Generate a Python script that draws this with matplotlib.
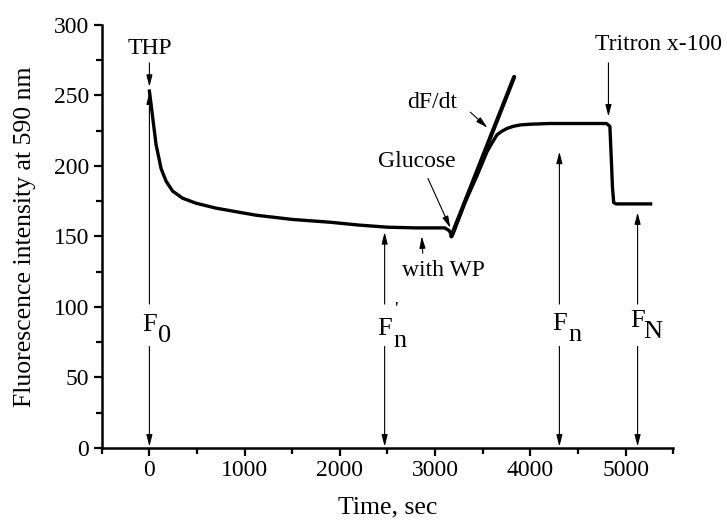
import numpy as np
import matplotlib
matplotlib.use("Agg")
import matplotlib.pyplot as plt

plt.rcParams['font.family'] = ['Liberation Serif', 'DejaVu Serif']

# fluorescence trace
time_s = [0, 35, 70, 123, 176, 245, 350, 490, 700, 950, 1120, 1500, 1900,
          2200, 2500, 2800, 3000, 3100, 3150, 3175, 3195, 3300, 3440, 3545,
          3600, 3650, 3700, 3755, 3820, 3895, 4000, 4200, 4500, 4800, 4835,
          4850, 4862, 4875, 4900, 5000, 5100, 5263]
fluor = [253, 234, 215, 198, 189, 182, 177, 173.5, 170, 167, 165, 162, 160,
         158, 156.5, 156, 156, 156, 154, 150, 153, 172, 193, 210,
         216.5, 222, 224.5, 226.5, 228, 229, 229.5, 230, 230, 230, 228,
         205, 185, 174, 173, 173, 173, 173]

# tangent line (dF/dt)
tangent_t = [3170, 3830]
tangent_f = [150, 263]

fig = plt.figure(figsize=(7.27, 5.27), dpi=100)
ax = fig.add_axes([0.140, 0.150, 0.786, 0.803])

ax.plot(time_s, fluor, color='black', lw=2.4, solid_joinstyle='round')
ax.plot(tangent_t, tangent_f, color='black', lw=3.0, solid_capstyle='round')

ax.set_xlim(-500, 5500)
ax.set_ylim(0, 300)
ax.set_xticks([0, 1000, 2000, 3000, 4000, 5000])
ax.set_xticks(np.arange(-500, 5501, 1000), minor=True)
ax.set_yticks(np.arange(0, 301, 50))
ax.set_yticks(np.arange(25, 300, 50), minor=True)
for s in ['top', 'right']:
    ax.spines[s].set_visible(False)
for s in ['left', 'bottom']:
    ax.spines[s].set_linewidth(1.8)
ax.tick_params(which='major', direction='out', length=6, width=1.6, labelsize=17, pad=3)
ax.tick_params(which='minor', direction='out', length=4, width=1.6)
ax.set_xlabel('Time, sec', fontsize=18.5, labelpad=11)
ax.set_ylabel('Fluorescence intensity at 590 nm', fontsize=18.5, labelpad=13)

arrow = dict(arrowstyle='-|>,head_length=0.7,head_width=0.18', color='black',
             lw=0.8, shrinkA=0, shrinkB=0)


def arr(x0, y0, x1, y1):
    ax.annotate('', xy=(x1, y1), xytext=(x0, y0), arrowprops=arrow)


# event labels
ax.text(0, 283, 'THP', ha='center', va='center', fontsize=17)
arr(0, 273, 0, 256)
ax.text(5350, 286, 'Tritron x-100', ha='center', va='center', fontsize=17)
arr(4820, 273, 4820, 235)
ax.text(2970, 245, 'dF/dt', ha='center', va='center', fontsize=17)
arr(3370, 238, 3550, 227)
ax.text(2810, 203, 'Glucose', ha='center', va='center', fontsize=17)
arr(2925, 191, 3160, 156)
ax.text(3090, 126, 'with WP', ha='center', va='center', fontsize=17)
arr(2870, 138, 2860, 150)

# F markers: (time, top of upward arrow, main text, subscript)
marks_t = [0, 2470, 4305, 5126]
marks_top = [252, 153, 210, 167]
marks_sub = ['0', 'n', 'n', 'N']
marks_y = [87, 84, 88, 90]
for t, top, sub, yy in zip(marks_t, marks_top, marks_sub, marks_y):
    arr(t, 102, t, top)
    arr(t, 72, t, 1)
    ax.text(t, yy, 'F', ha='center', va='center', fontsize=19)
    ax.annotate(sub, xy=(t, yy), xytext=(11, -8), textcoords='offset points',
                ha='center', va='center', fontsize=19)
# prime on F'n
ax.annotate("'", xy=(2470, 84), xytext=(8, 14), textcoords='offset points',
            ha='center', va='center', fontsize=14)

fig.savefig('out.png', dpi=100)
